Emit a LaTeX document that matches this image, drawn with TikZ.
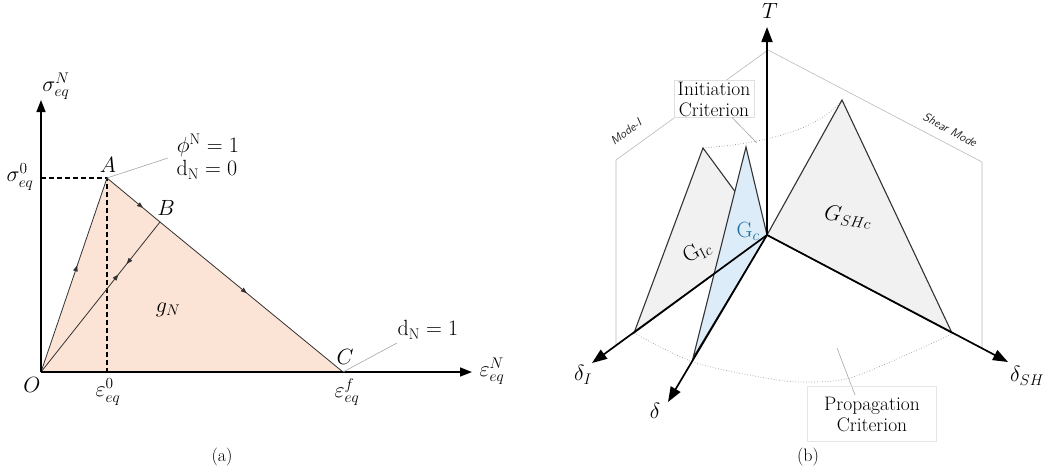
\documentclass[tikz,border=0pt]{standalone}
\usepackage{fix-cm}
\usepackage{fontspec}
\usepackage{amsmath,amssymb}
\usepackage{tikz}
\usetikzlibrary{arrows.meta,decorations.markings}

\definecolor{peach}{RGB}{251,227,213}
\definecolor{panegray}{RGB}{241,241,241}
\definecolor{gcblue}{RGB}{220,236,249}
\definecolor{gctext}{RGB}{30,112,160}

\begin{document}
\begin{tikzpicture}[x=1pt,y=-1pt,
    font=\fontsize{22}{25}\selectfont,
    >=Triangle,
    axisa/.style={line width=1.6pt, -{Triangle[length=12pt,width=9pt]}},
    axisb/.style={line width=1.7pt, -{Triangle[length=15pt,width=11pt]}},
    edge/.style={draw=black!80, line width=0.8pt},
    guide/.style={line width=1.1pt, dash pattern=on 5pt off 3pt},
    leader/.style={draw=gray!70, line width=0.6pt},
    flowmid/.style={postaction={decorate, decoration={markings, mark=at position #1 with {\arrow{Triangle[length=6pt,width=4.5pt]}}}}},
    flowrev/.style={postaction={decorate, decoration={markings, mark=at position #1 with {\arrowreversed{Triangle[length=6pt,width=4.5pt]}}}}},
    frame/.style={draw=gray!55, line width=0.6pt},
    arcline/.style={draw=gray!80, dotted, line width=0.7pt},
    face/.style={draw=black!80, line width=1.1pt},
    crit/.style={draw=gray!25, fill=white, align=center, inner sep=1pt, font=\fontsize{19.5}{21}\selectfont},
    modelab/.style={font=\fontsize{12}{14}\selectfont\sffamily\itshape, text=black!85}
  ]
  \useasboundingbox (0,0) rectangle (1049,472);

  % (a) softening law
  \coordinate (O) at (41,372);
  \coordinate (A) at (107,178);
  \coordinate (B) at (160,222);
  \coordinate (C) at (343,372);
  \coordinate (xend) at (472,372);
  \coordinate (yend) at (41,100);

  \fill[peach] (O) -- (A) -- (C) -- cycle;
  \draw[guide] (O |- A) -- (A) -- (A |- O);
  \draw[edge, flowmid=0.55] (O) -- (A);
  \draw[edge, flowmid=0.68] (A) -- (B);
  \draw[edge, flowmid=0.475] (B) -- (C);
  \draw[edge, flowmid=0.65, flowrev=0.72] (O) -- (B);
  \draw[axisa] (O) -- (xend);
  \draw[axisa] (O) -- (yend);

  \node (sigN) at (56,86) {$\sigma_{eq}^{N}$};
  \node (sig0) at (20,177) {$\sigma_{eq}^{0}$};
  \node (Alab) at (108,165) {$A$};
  \node (Blab) at (166,208) {$B$};
  \node (Clab) at (345,357) {$C$};
  \node (Olab) at (32,385) {$O$};
  \node (eps0) at (108,392) {$\varepsilon_{eq}^{0}$};
  \node (epsf) at (347,392) {$\varepsilon_{eq}^{f}$};
  \node (epsN) at (492,371) {$\varepsilon_{eq}^{N}$};
  \node (gN) at (168,310) {$g_N$};
  \node (phi) at (208,145) {$\phi^{\mathrm{N}} = 1$};
  \node (dn0) at (207,170) {$\mathrm{d}_{\mathrm{N}} = 0$};
  \node (dn1) at (428,330) {$\mathrm{d}_{\mathrm{N}} = 1$};
  \coordinate (phipt) at (168,158);
  \coordinate (dn1pt) at (397,343);
  \draw[leader] (A) -- (phipt);
  \draw[leader] (C) -- (dn1pt);

  % (b) mixed-mode criteria
  \coordinate (P) at (767,235);
  \coordinate (Ttip) at (767,27);
  \coordinate (Itip) at (592,363);
  \coordinate (Dtip) at (668,402);
  \coordinate (Stip) at (1008,362);
  \coordinate (Ibase) at (634,333);
  \coordinate (Dbase) at (693,358);
  \coordinate (Sbase) at (952,333);
  \coordinate (Itop) at (703,148);
  \coordinate (Ctop) at (746,147);
  \coordinate (Stop) at (842,100);
  \coordinate (Fib) at (616,346);
  \coordinate (Fit) at (616,160);
  \coordinate (Ft) at (768,50);
  \coordinate (Fst) at (982,162);
  \coordinate (Fsb) at (982,348);

  \draw[frame] (Fib) -- (Fit) -- (Ft) -- (Fst) -- (Fsb);
  \draw[arcline] (Itop) .. controls (770,143) and (820,128) .. (Stop);
  \draw[arcline] plot[smooth] coordinates {(Ibase) (693,362) (760,377) (800,382) (850,378) (917,350) (952,334)};

  \filldraw[face, fill=panegray] (P) -- (Ibase) -- (Itop) -- cycle;
  \filldraw[face, fill=gcblue] (P) -- (Dbase) -- (Ctop) -- cycle;
  \filldraw[face, fill=panegray] (P) -- (Sbase) -- (Stop) -- cycle;

  \draw[axisb] (P) -- (Ttip);
  \draw[axisb] (P) -- (Itip);
  \draw[axisb] (P) -- (Dtip);
  \draw[axisb] (P) -- (Stip);

  \node (Tlab) at (770,11) {$T$};
  \node (dIlab) at (583,375) {$\delta_I$};
  \node (dlab) at (655,411) {$\delta$};
  \node (dSHlab) at (1027,376) {$\delta_{SH}$};
  \node[rotate=28] (gic) at (697,252) {$\mathrm{G}_{\mathrm{I}c}$};
  \node[text=gctext] (gc) at (748,231) {$\mathrm{G}_{c}$};
  \node[rotate=-8] (gshc) at (848,217) {$G_{SHc}$};

  \node[modelab, rotate=36] (mode1) at (626,132) {Mode-I};
  \node[modelab, rotate=-28] (shear) at (950,130) {Shear Mode};

  \node[crit, minimum width=80pt] (init) at (714,99) {Initiation\\Criterion};
  \coordinate (initpt) at (757,143);
  \draw[leader] ([xshift=18pt]init.south) -- (initpt);

  \coordinate (proppt) at (837,348);
  \draw[leader] (proppt) -- (855,395);
  \node[crit, draw=gray!20, fill=none, minimum width=129pt, minimum height=55pt] (prop) at (872,414) {Propagation\\Criterion};

  \node[font=\fontsize{18}{20}\selectfont] (capa) at (222,457) {(a)};
  \node[font=\fontsize{18}{20}\selectfont] (capb) at (808,457) {(b)};
\end{tikzpicture}
\end{document}
